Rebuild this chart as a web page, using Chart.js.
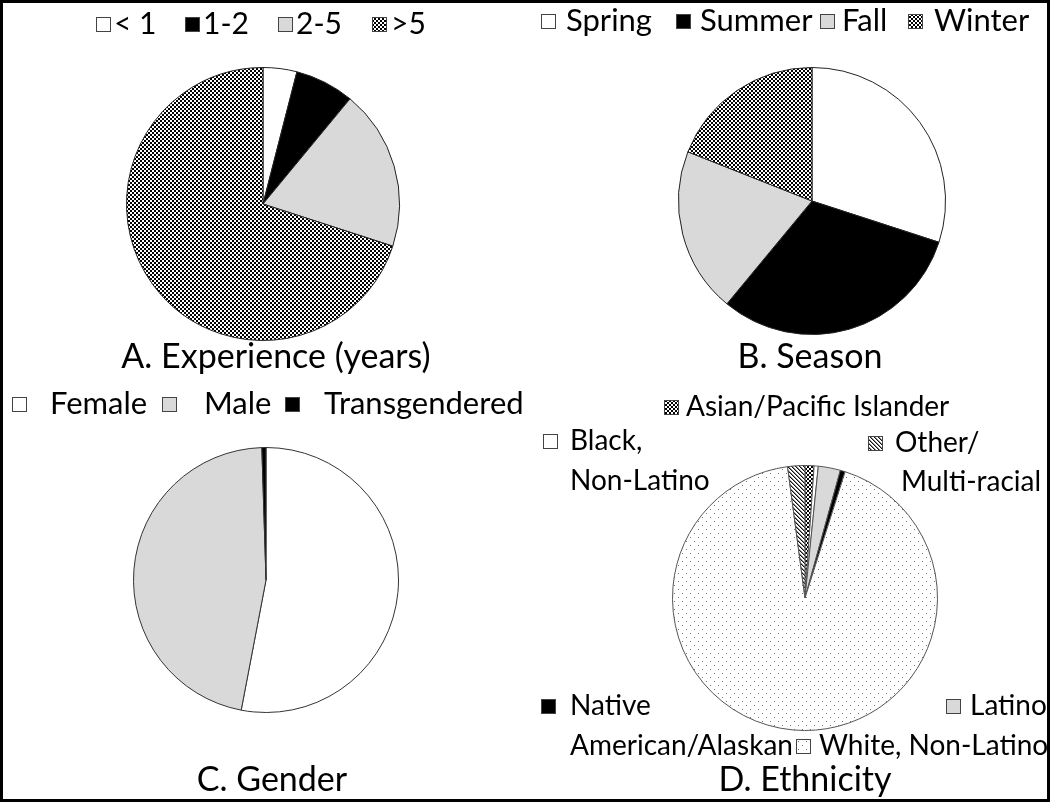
<!DOCTYPE html>
<html>
<head>
<meta charset="utf-8">
<title>Participant characteristics</title>
<script src="https://cdn.jsdelivr.net/npm/chart.js@4.4.1/dist/chart.umd.min.js"></script>
<style>
  html, body { margin: 0; padding: 0; background: #fff; }
  #page { position: relative; width: 1050px; height: 802px; overflow: hidden; background: #fff; }
  #frame { position: absolute; left: 0; top: 0; width: 1050px; height: 802px; border: 3px solid #000;
           box-sizing: border-box; pointer-events: none; z-index: 5; }
  .cell { position: absolute; }
</style>
</head>
<body>
<div id="page">
  <div class="cell" style="left:0;top:0;width:525px;height:388px"><canvas id="chA"></canvas></div>
  <div class="cell" style="left:525px;top:0;width:525px;height:388px"><canvas id="chB"></canvas></div>
  <div class="cell" style="left:0;top:388px;width:560px;height:414px"><canvas id="chC"></canvas></div>
  <div class="cell" style="left:525px;top:388px;width:525px;height:414px"><canvas id="chD"></canvas></div>
  <div id="frame"></div>
</div>
<script>
/* ────────────────────────────────────────────
   DATA  (percent of respondents)
──────────────────────────────────────────── */
const expLabels    = ['< 1', '1-2', '2-5', '>5'];
const expValues    = [4, 7, 19, 70];

const seasonLabels = ['Spring', 'Summer', 'Fall', 'Winter'];
const seasonValues = [30, 31, 20, 19];

const genderLabels = ['Female', 'Male', 'Transgendered'];
const genderValues = [53, 46.5, 0.5];

const ethLabels    = [['Asian/Pacific Islander'], ['Black,', 'Non-Latino'], ['Latino'],
                      ['Native', 'American/Alaskan'], ['White, Non-Latino'], ['Other/', 'Multi-racial']];
const ethValues    = [1.1, 0.5, 2.7, 0.6, 93.0, 2.1];

const captions     = ['A. Experience (years)', 'B. Season', 'C. Gender', 'D. Ethnicity'];

/* ────────────────────────────────────────────
   FILLS
──────────────────────────────────────────── */
function tile(size, draw) {
  const c = document.createElement('canvas');
  c.width = c.height = size;
  const x = c.getContext('2d');
  x.fillStyle = '#fff';
  x.fillRect(0, 0, size, size);
  draw(x);
  return x.createPattern(c, 'repeat');
}

const FILL = {
  white: '#ffffff',
  black: '#000000',
  gray:  '#d9d9d9',
  checker: tile(4, x => { x.fillStyle = '#000'; x.fillRect(0, 0, 2, 2); x.fillRect(2, 2, 2, 2); }),
  hatch: tile(4, x => {
    for (let i = 0; i < 4; i++) {
      x.fillStyle = '#111'; x.fillRect(i, i, 1, 1);
      x.fillStyle = '#888'; x.fillRect((i + 1) % 4, i, 1, 1);
    }
  }),
  dots: tile(8, x => { x.fillStyle = '#777'; x.fillRect(1, 1, 1, 1); x.fillRect(5, 5, 1, 1); })
};

/* ────────────────────────────────────────────
   LEGEND + CAPTION PLUGIN  (page coordinates)
──────────────────────────────────────────── */
const placedText = {
  id: 'placedText',
  afterDraw(chart, args, o) {
    const ctx = chart.ctx;
    const [ox, oy] = o.origin;
    const bg = chart.data.datasets[0].backgroundColor;
    const s = o.boxSize;
    ctx.save();
    ctx.textBaseline = 'middle';
    ctx.textAlign = 'left';
    o.items.forEach(it => {
      const bx = it.box[0] - ox, by = Math.round(it.box[1] - oy - s / 2);
      ctx.fillStyle = bg[it.index];
      ctx.fillRect(bx, by, s, s);
      ctx.strokeStyle = '#444';
      ctx.lineWidth = 1;
      ctx.strokeRect(bx + 0.5, by + 0.5, s - 1, s - 1);
      const lbl = chart.data.labels[it.index];
      const lines = Array.isArray(lbl) ? lbl : [lbl];
      ctx.fillStyle = '#000';
      ctx.font = o.font;
      lines.forEach((t, k) => ctx.fillText(t, it.text[k][0] - ox, it.text[k][1] - oy));
    });
    ctx.font = o.captionFont;
    ctx.textAlign = 'center';
    ctx.fillStyle = '#000';
    ctx.fillText(o.caption.text, o.caption.at[0] - ox, o.caption.at[1] - oy);
    ctx.restore();
  }
};

// chart area = the pie's bounding square, so centre/radius land where the figure has them
function padFor(cx, cy, r, ox, oy, w, h) {
  return { left: cx - ox - r, top: cy - oy - r, right: w - (cx - ox + r), bottom: h - (cy - oy + r) };
}

function mkPie(id, labels, values, fills, border, layout, textOpts) {
  return new Chart(document.getElementById(id), {
    type: 'pie',
    data: {
      labels,
      datasets: [{ data: values, backgroundColor: fills.map(f => FILL[f]),
                   borderColor: border, borderWidth: 1, hoverOffset: 0 }]
    },
    options: {
      responsive: true, maintainAspectRatio: false, animation: false,
      layout: { padding: layout },
      plugins: { legend: { display: false }, tooltip: { enabled: false }, placedText: textOpts }
    },
    plugins: [placedText]
  });
}

const FONT = '"Lato", "Open Sans", sans-serif';

/* ── A. Experience ── */
mkPie('chA', expLabels, expValues, ['white', 'black', 'gray', 'checker'], '#222',
  padFor(263, 204, 137, 0, 0, 525, 388), {
    origin: [0, 0], boxSize: 15, font: '30px ' + FONT, captionFont: '34px ' + FONT,
    items: [
      { index: 0, box: [96, 24],  text: [[114, 24]] },
      { index: 1, box: [185, 24], text: [[203, 24]] },
      { index: 2, box: [278, 24], text: [[296, 24]] },
      { index: 3, box: [372, 24], text: [[391, 24]] }
    ],
    caption: { text: captions[0], at: [276, 357] }
  });

/* ── B. Season ── */
mkPie('chB', seasonLabels, seasonValues, ['white', 'black', 'gray', 'checker'], '#222',
  padFor(812, 201, 134, 525, 0, 525, 388), {
    origin: [525, 0], boxSize: 15, font: '31px ' + FONT, captionFont: '34px ' + FONT,
    items: [
      { index: 0, box: [541, 21], text: [[566, 21]] },
      { index: 1, box: [676, 21], text: [[700, 21]] },
      { index: 2, box: [820, 21], text: [[842, 21]] },
      { index: 3, box: [908, 21], text: [[934, 21]] }
    ],
    caption: { text: captions[1], at: [810, 357] }
  });

/* ── C. Gender ── */
mkPie('chC', genderLabels, genderValues, ['white', 'gray', 'black'], '#333',
  padFor(266, 580, 133, 0, 388, 560, 414), {
    origin: [0, 388], boxSize: 15, font: '31px ' + FONT, captionFont: '34px ' + FONT,
    items: [
      { index: 0, box: [12, 404],  text: [[50, 404]] },
      { index: 1, box: [162, 404], text: [[204, 404]] },
      { index: 2, box: [285, 404], text: [[324, 404]] }
    ],
    caption: { text: captions[2], at: [272, 780] }
  });

/* ── D. Ethnicity ── */
mkPie('chD', ethLabels, ethValues, ['checker', 'white', 'gray', 'black', 'dots', 'hatch'], '#555',
  padFor(805, 598, 133, 525, 388, 525, 414), {
    origin: [525, 388], boxSize: 15, font: '28px ' + FONT, captionFont: '34px ' + FONT,
    items: [
      { index: 0, box: [664, 407], text: [[686, 407]] },
      { index: 1, box: [543, 441], text: [[570, 441], [570, 481]] },
      { index: 5, box: [868, 443], text: [[895, 443], [901, 482]] },
      { index: 3, box: [541, 706], text: [[570, 706], [570, 746]] },
      { index: 2, box: [946, 706], text: [[970, 706]] },
      { index: 4, box: [796, 746], text: [[819, 746]] }
    ],
    caption: { text: captions[3], at: [805, 780] }
  });
</script>
</body>
</html>
